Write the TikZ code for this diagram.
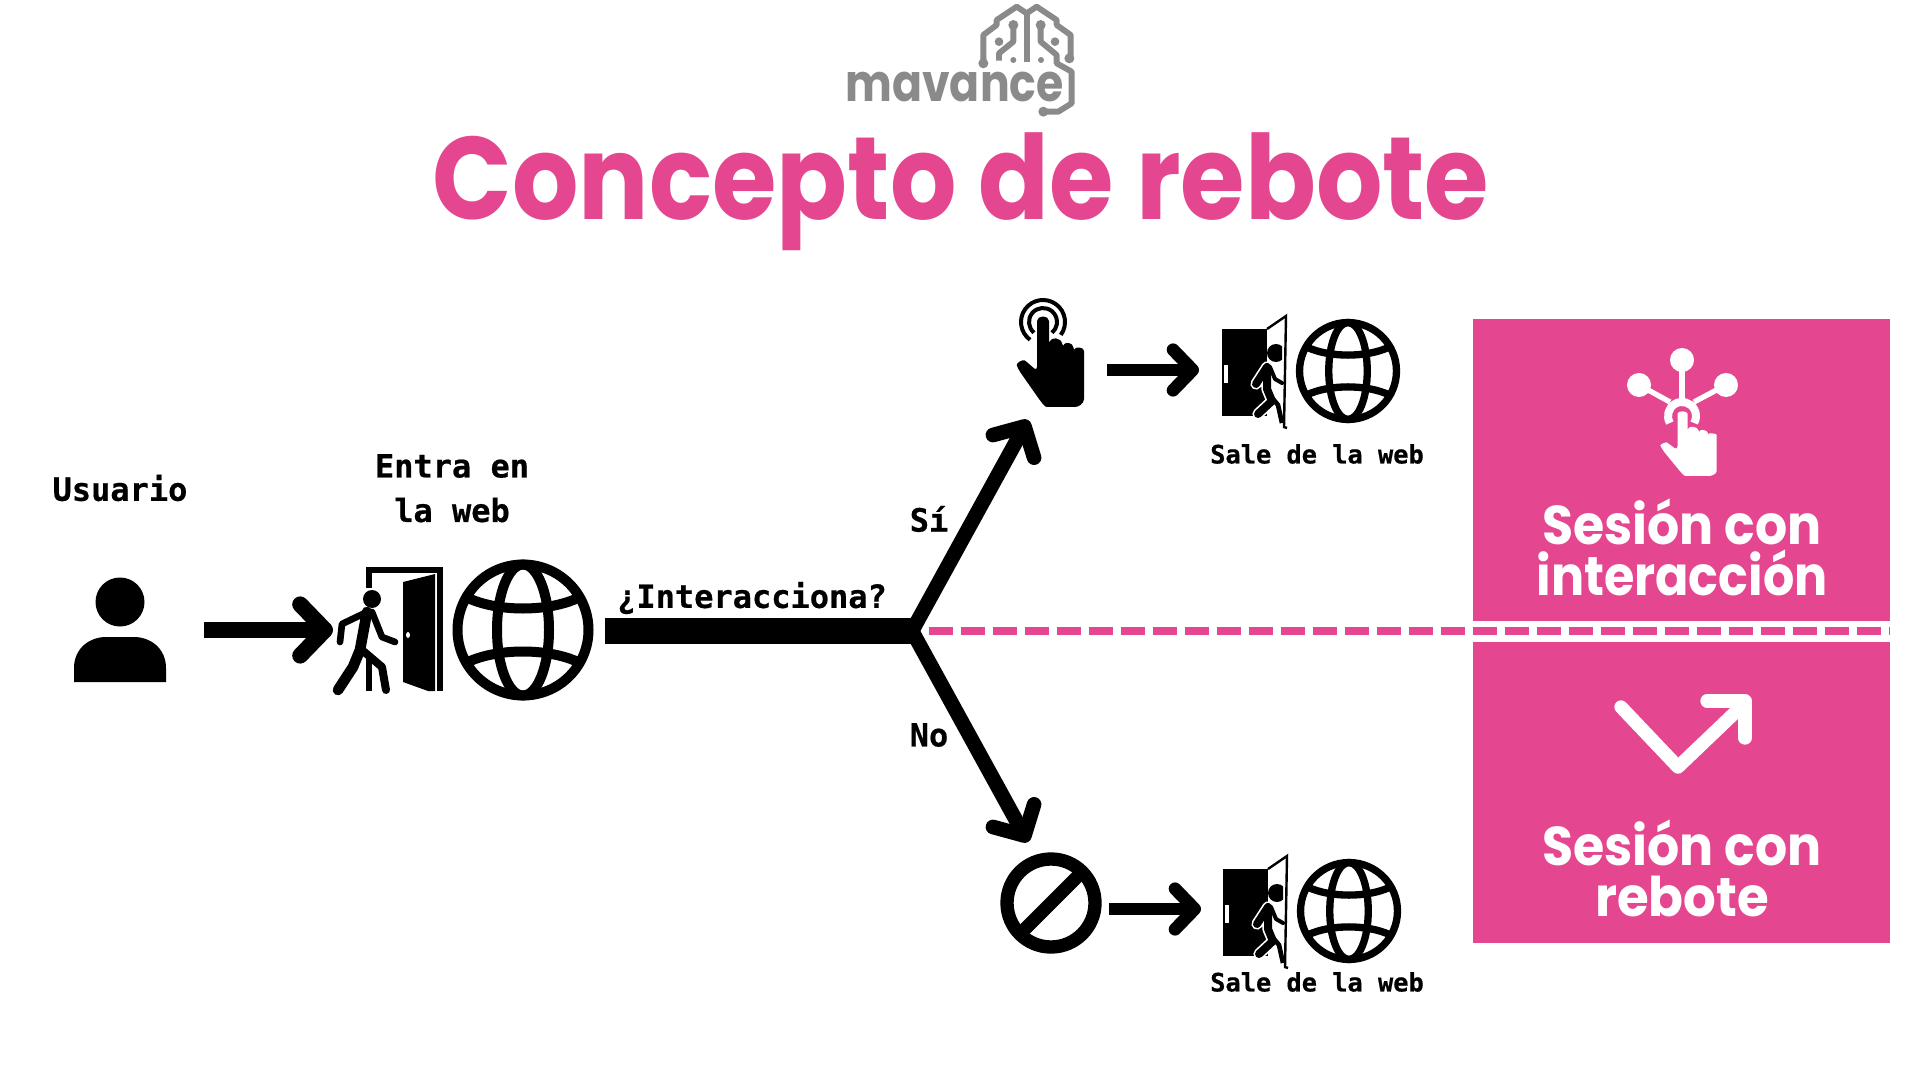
\documentclass[tikz,border=0pt]{standalone}
\usepackage{fontspec}
\usepackage{graphicx}
\setmainfont{Poppins}
\newfontfamily\monofuente[BoldFont={DejaVu Sans Mono Bold},BoldFeatures={FakeBold=0.6}]{DejaVu Sans Mono}
\usetikzlibrary{arrows.meta}
\definecolor{rosa}{HTML}{E4478F}
\definecolor{gris}{HTML}{8A8A8A}

\tikzset{every picture/.style={line width=0.75pt}}
\tikzset{
  flecha/.style={line width=#1, line cap=butt, -{Straight Barb[round,length=1.55*#1,width=3.2*#1]}},
  etiqueta/.style={font=\monofuente\bfseries\fontsize{24}{24}\selectfont, inner sep=0pt},
  etiquetamin/.style={font=\monofuente\bfseries\fontsize{19}{19}\selectfont, inner sep=0pt},
  titulocaja/.style={font=\bfseries\fontsize{41}{41}\selectfont, text=white, inner sep=0pt, anchor=base},
  globo/.pic={
    \draw (0,0) circle (65.5);
    \draw (0,0) ellipse (26 and 65.5);
    \draw (-55,-32) .. controls (-25,-18) and (25,-18) .. (55,-32);
    \draw (-55,32) .. controls (-25,18) and (25,18) .. (55,32);
  },
  salida/.pic={
    \fill (0,0) rectangle (45,87);
    \fill [white] (2,36) rectangle (6,54);
    \draw [line width=1.8pt] (45,0) -- (64,-13) -- (62,98) -- (65,99);
    \begin{scope}
      \clip (45,0) rectangle (60,87);
      \fill (54,24) circle (9);
    \end{scope}
    \draw [white,line width=8.5pt,line cap=round,line join=round] (34,55) -- (45,38) -- (45,60) -- (50,72) -- (36,85);
    \draw [line width=6pt,line cap=round,line join=round] (34,55) -- (45,38) -- (45,60) -- (50,72) -- (36,85);
    \draw [line width=3pt,line cap=round,line join=round] (48,38) -- (53,50) -- (60,54);
    \draw [line width=3.5pt,line join=round] (46,64) -- (56,76) -- (60,94);
  },
  mano/.pic={
    \fill [rounded corners=3pt] (-6,8) .. controls (-6,-2) and (6,-2) .. (6,8) -- (6,28)
      .. controls (8,20) and (18,20) .. (20,31)
      .. controls (22,25) and (30,25) .. (31,35)
      .. controls (33,30) and (41,30) .. (41,38)
      -- (41,78) .. controls (41,87) and (35,90) .. (28,90) -- (8,90)
      .. controls (2,90) and (-1,86) .. (-4,82) -- (-25,52)
      .. controls (-27,46) and (-20,42) .. (-15,46) -- (-6,54) -- cycle;
  }
}

\begin{document}
\begin{tikzpicture}[x=0.75pt,y=0.75pt,yscale=-1,xscale=1]
\useasboundingbox (0,0) rectangle (1920,1080);

% cajas de la derecha
\fill [rosa] (1473,319) rectangle (1890,621);
\fill [rosa] (1473,642) rectangle (1890,943);

% logo
\begin{scope}[shift={(800,0)},scale=1/3,gris,line width=4.4pt,line join=round]
\draw (550,190) -- (550,105) -- (590,75) -- (590,60) -- (650,20) -- (680,40) -- (710,20) -- (770,60) -- (770,75) -- (812,105) -- (812,175);
\draw (680,40) -- (680,185);
\draw (640,75) -- (640,125) -- (597,160) -- (597,182);
\draw (722,75) -- (722,125) -- (770,165) -- (770,190) -- (815,215) -- (815,310) -- (775,335) -- (730,335);
\foreach \px/\py/\pr in {550/190/15,808/175/15,640/75/15,722/75/15,597/125/13,765/125/13,640/180/9,723/180/9,730/335/15}
  \fill (\px,\py) circle (\pr);
\end{scope}
\node (logo) [gris, anchor=base west, inner sep=0pt, font=\bfseries\fontsize{39}{39}\selectfont] at (845,102) {\scalebox{0.85}[1]{mavance}};

\node (titulo) [rosa, anchor=base, inner sep=0pt, font=\bfseries\fontsize{88}{88}\selectfont] at (961,220) {\scalebox{0.89}[1]{Concepto de rebote}};

% usuario
\fill (120,602) circle (24.5);
\fill (74,682) -- (74,668) .. controls (74,648) and (90,637) .. (106,637) -- (134,637) .. controls (150,637) and (166,648) .. (166,668) -- (166,682) -- cycle;
\node (usuario) [etiqueta] at (120,488) {Usuario};

% entrada
\coordinate (inicio) at (204,630);
\coordinate (entrada) at (333,630);
\draw [line width=4.5pt] (369,588) -- (369,570) -- (440,570) -- (440,691);
\draw [line width=4.5pt] (369,658) -- (369,691);
\fill (403,582) -- (435,574) -- (435,691) -- (428,691) -- (403,682) -- cycle;
\fill [white] (408,635) ellipse (2 and 3);
\fill (372,599) circle (9);
\draw [line width=8pt,line cap=round,line join=round] (367,612) -- (360,650) -- (353,667) -- (338,690);
\draw [line width=5pt,line cap=round,line join=round] (367,612) -- (342,624) -- (340,642);
\draw [line width=5pt,line cap=round,line join=round] (372,612) -- (382,637) -- (395,642);
\draw [line width=6pt,line cap=round,line join=round] (362,650) -- (382,667) -- (386,690);
\pic [yscale=-1,line width=7.5pt] at (523,630) {globo};
\node (entra) [etiqueta] at (452,466) {Entra en};
\node (web) [etiqueta] at (452,510) {la web};

% decision
\coordinate (tronco) at (605,631);
\coordinate (cruce) at (912,631);
\coordinate (arriba) at (1028,420);
\coordinate (abajo) at (1028,842);
\draw [flecha=12pt] (inicio) -- (entrada);
\draw [flecha=11pt] (cruce) -- (arriba);
\draw [flecha=11pt] (cruce) -- (abajo);
\draw [line width=19pt] (tronco) -- (cruce);
\node (pregunta) [etiqueta] at (752,598) {¿Interacciona?};
\node (si) [etiqueta] at (929,519) {Sí};
\node (no) [etiqueta] at (929,735) {No};

% linea de corte
\coordinate (corte) at (929,631);
\coordinate (borde) at (1890,631);
\draw [rosa,line width=6pt,dash pattern=on 18pt off 6pt] (corte) -- (borde);

% rama con interaccion
\draw [line width=3pt] (1043,322) ++(126:22) arc (126:396:22);
\draw [line width=3pt] (1043,322) ++(130:14) arc (130:410:14);
\pic [yscale=-1] at (1043,317) {mano};
\coordinate (clic) at (1107,370);
\coordinate (sale1) at (1199,370);
\draw [flecha=9.5pt] (clic) -- (sale1);
\pic [yscale=-1] at (1222,329) {salida};
\pic [scale=0.74,yscale=-1,line width=5.5pt] at (1348,371) {globo};
\node (texto1) [etiquetamin] at (1317,454) {Sale de la web};

% rama con rebote
\draw [line width=10pt] (1051,903) circle (44);
\draw [line width=10pt] (1021,933) -- (1081,873);
\coordinate (prohibido) at (1109,909);
\coordinate (sale2) at (1201,909);
\draw [flecha=9.5pt] (prohibido) -- (sale2);
\pic [yscale=-1] at (1223,869) {salida};
\pic [scale=0.74,yscale=-1,line width=5.5pt] at (1349,911) {globo};
\node (texto2) [etiquetamin] at (1317,982) {Sale de la web};

% icono de sesion con interaccion
\begin{scope}[white]
\foreach \nx/\ny in {1682/360,1639/385,1726/385}
  \fill (\nx,\ny) circle (12);
\draw [line width=4pt] (1682,360) -- (1682,402);
\draw [line width=4pt] (1639,385) -- (1670,402);
\draw [line width=4pt] (1726,385) -- (1694,402);
\draw [line width=6pt] (1682,416) ++(150:14) arc (150:390:14);
\pic [xscale=0.83,yscale=-0.71] at (1682.5,412) {mano};
\draw [line width=10pt,line cap=round,line join=round] (1621,707) -- (1678,767) -- (1745,703);
\draw [line width=10pt,line cap=round,line join=round] (1707,701) -- (1745,701) -- (1745,738);
\end{scope}
\node (sesion1) [titulocaja] at (1682,544) {\scalebox{0.925}[1]{Sesión con}};
\node (interaccion) [titulocaja] at (1682,595) {\scalebox{0.9}[1]{interacción}};
\node (sesion2) [titulocaja] at (1682,865) {\scalebox{0.925}[1]{Sesión con}};
\node (rebote) [titulocaja] at (1682,916) {\scalebox{0.94}[1]{rebote}};

\end{tikzpicture}
\end{document}
